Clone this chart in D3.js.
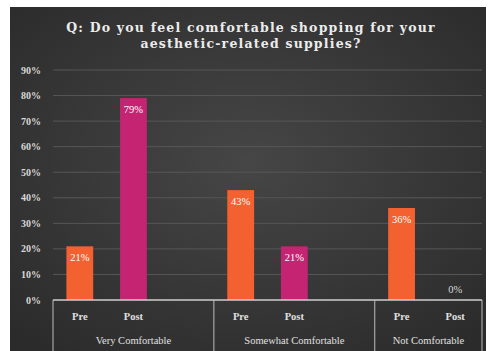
<!DOCTYPE html>
<html>
<head>
<meta charset="utf-8">
<script src="https://cdn.jsdelivr.net/npm/d3@7"></script>
<style>
  body { margin: 0; background: #fff; }
  svg { display: block; }
</style>
</head>
<body>
<svg id="chart" width="490" height="351"></svg>
<script>
var groups = ['Very Comfortable', 'Somewhat Comfortable', 'Not Comfortable'];
var seriesNames = ['Pre', 'Post'];
var preValues = [0.21, 0.43, 0.36];
var postValues = [0.79, 0.21, 0.00];
var yTicks = [0, 0.1, 0.2, 0.3, 0.4, 0.5, 0.6, 0.7, 0.8, 0.9];

var colors = { Pre: '#f2612f', Post: '#c42472' };

var svg = d3.select('#chart');

var defs = svg.append('defs');
var grad = defs.append('radialGradient')
    .attr('id', 'bg')
    .attr('cx', '50%').attr('cy', '45%').attr('r', '70%');
grad.append('stop').attr('offset', '0%').attr('stop-color', '#464646');
grad.append('stop').attr('offset', '100%').attr('stop-color', '#2b2b2b');

svg.append('rect')
    .attr('x', 10).attr('y', 7)
    .attr('width', 476).attr('height', 344)
    .attr('fill', 'url(#bg)');

// slots: Pre, Post, gap per group (no gap after the last one)
var slots = [];
var bars = [];
groups.forEach(function(g, i) {
    seriesNames.forEach(function(s) {
        slots.push(g + '|' + s);
        bars.push({ group: g, series: s, value: s === 'Pre' ? preValues[i] : postValues[i] });
    });
    if (i < groups.length - 1) slots.push(g + '|gap');
});

var x = d3.scaleBand()
    .domain(slots)
    .range([53, 482]);

var y = d3.scaleLinear()
    .domain([0, 0.9])
    .range([300, 70]);

// grid
svg.append('g')
    .selectAll('line')
    .data(yTicks.slice(1))
    .enter().append('line')
    .attr('x1', 53).attr('x2', 482)
    .attr('y1', function(d) { return y(d); })
    .attr('y2', function(d) { return y(d); })
    .attr('stroke', '#575757')
    .attr('stroke-width', 1);

// y labels
svg.append('g')
    .selectAll('text')
    .data(yTicks)
    .enter().append('text')
    .attr('x', 41)
    .attr('y', function(d) { return y(d); })
    .attr('dy', '0.35em')
    .attr('text-anchor', 'end')
    .attr('font-family', 'Liberation Serif, serif')
    .attr('font-weight', 'bold')
    .attr('font-size', 10)
    .attr('fill', '#d8d8d8')
    .text(function(d) { return d3.format('.0%')(d); });

var bw = x.bandwidth() * 0.5;

svg.append('g')
    .selectAll('rect')
    .data(bars)
    .enter().append('rect')
    .attr('x', function(d) { return x(d.group + '|' + d.series) + (x.bandwidth() - bw) / 2; })
    .attr('y', function(d) { return y(d.value); })
    .attr('width', bw)
    .attr('height', function(d) { return y(0) - y(d.value); })
    .attr('fill', function(d) { return colors[d.series]; });

svg.append('g')
    .selectAll('text')
    .data(bars)
    .enter().append('text')
    .attr('x', function(d) { return x(d.group + '|' + d.series) + x.bandwidth() / 2; })
    .attr('y', function(d) { return d.value > 0 ? y(d.value) + 15 : y(0) - 7; })
    .attr('text-anchor', 'middle')
    .attr('font-family', 'Liberation Serif, serif')
    .attr('font-size', 10.5)
    .attr('fill', function(d) { return d.value > 0 ? '#fff' : '#d8d8d8'; })
    .text(function(d) { return d3.format('.0%')(d.value); });

// axis line and group dividers
svg.append('line')
    .attr('x1', 53).attr('x2', 482)
    .attr('y1', y(0)).attr('y2', y(0))
    .attr('stroke', '#cfcfcf').attr('stroke-width', 1.5);

var dividers = [x(slots[0])];
groups.forEach(function(g, i) {
    if (i < groups.length - 1) dividers.push(x(g + '|gap') + x.bandwidth());
});
dividers.push(x.range()[1]);

svg.append('g')
    .selectAll('line')
    .data(dividers)
    .enter().append('line')
    .attr('x1', function(d) { return d; })
    .attr('x2', function(d) { return d; })
    .attr('y1', y(0)).attr('y2', 351)
    .attr('stroke', '#bdbdbd').attr('stroke-width', 1);

svg.append('g')
    .selectAll('text')
    .data(bars)
    .enter().append('text')
    .attr('x', function(d) { return x(d.group + '|' + d.series) + x.bandwidth() / 2; })
    .attr('y', 320)
    .attr('text-anchor', 'middle')
    .attr('font-family', 'Liberation Serif, serif')
    .attr('font-weight', 'bold')
    .attr('font-size', 10.5)
    .attr('fill', '#e0e0e0')
    .text(function(d) { return d.series; });

svg.append('g')
    .selectAll('text')
    .data(groups)
    .enter().append('text')
    .attr('x', function(d, i) { return (dividers[i] + dividers[i + 1]) / 2; })
    .attr('y', 344)
    .attr('text-anchor', 'middle')
    .attr('font-family', 'Liberation Serif, serif')
    .attr('font-size', 10.5)
    .attr('fill', '#e0e0e0')
    .text(function(d) { return d; });

// title
var title = svg.append('text')
    .attr('x', 251)
    .attr('text-anchor', 'middle')
    .attr('font-family', 'DejaVu Serif, serif')
    .attr('font-weight', 'bold')
    .attr('font-size', 12.5)
    .attr('letter-spacing', 1.2)
    .attr('fill', '#ececec');
title.append('tspan').attr('x', 251).attr('y', 32).text('Q: Do you feel comfortable shopping for your');
title.append('tspan').attr('x', 251).attr('y', 48).text('aesthetic-related supplies?');
</script>
</body>
</html>
